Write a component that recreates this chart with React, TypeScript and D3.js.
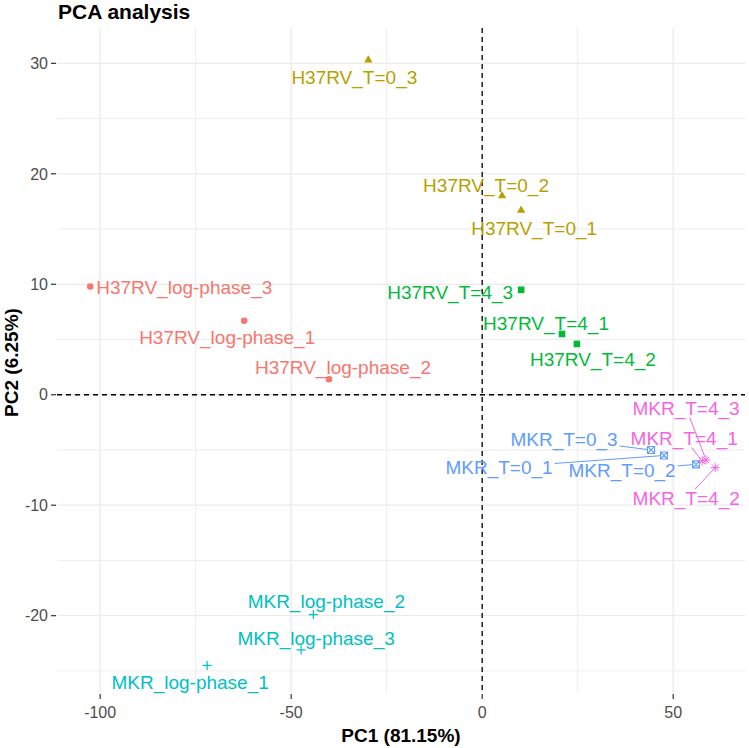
import * as d3 from "d3";

const WIDTH = 749;
const HEIGHT = 748;
const PANEL = { left: 57, right: 745, top: 28, bottom: 693 };
const FONT = "'Liberation Sans', Arial, sans-serif";

// samples, PCA scores and group of each
const sampleNames = [
  "H37RV_log-phase_1", "H37RV_log-phase_2", "H37RV_log-phase_3",
  "H37RV_T=0_1", "H37RV_T=0_2", "H37RV_T=0_3",
  "H37RV_T=4_1", "H37RV_T=4_2", "H37RV_T=4_3",
  "MKR_log-phase_1", "MKR_log-phase_2", "MKR_log-phase_3",
  "MKR_T=0_1", "MKR_T=0_2", "MKR_T=0_3",
  "MKR_T=4_1", "MKR_T=4_2", "MKR_T=4_3",
];
const pc1 = [
  -62.3, -40.1, -102.6,
  10.2, 5.2, -29.8,
  20.9, 24.8, 10.2,
  -72.0, -44.2, -47.4,
  47.6, 56.0, 44.2,
  57.6, 61.0, 58.6,
];
const pc2 = [
  6.7, 1.4, 9.8,
  16.7, 18.0, 30.3,
  5.5, 4.6, 9.5,
  -24.5, -19.9, -23.1,
  -5.5, -6.3, -5.0,
  -6.0, -6.6, -5.9,
];
const groupNames = ["H37RV_log-phase", "H37RV_T=0", "H37RV_T=4", "MKR_log-phase", "MKR_T=0", "MKR_T=4"];
const groupColors = ["#F8766D", "#B79F00", "#00BA38", "#00BFC4", "#619CFF", "#F564E3"];
const groupShapes = ["circle", "triangle", "square", "plus", "squareCross", "asterisk"];

const xTicks = [-100, -50, 0, 50];
const yTicks = [-20, -10, 0, 10, 20, 30];
const xMinor = [-75, -25, 25];
const yMinor = [-25, -15, -5, 5, 15, 25];

// repelled label placement (pixel offset of label centre from its point)
const labelOffsets: [number, number][] = [
  [-17, 17], [14, -12], [94, 1],
  [13, 18], [-16, -11], [-14, 17],
  [-16, -11], [16, 15], [-71, 3],
  [-17, 17], [13, -13], [15, -12],
  [-165, 12], [-74, 6], [-87, -11],
  [-18, -23], [-29, 31], [-20, -52],
];

const LABEL_SIZE = 19;

const groupOf = (name: string) =>
  groupNames.findIndex((g) => name.startsWith(g + "_") && !name.slice(g.length + 1).includes("_"));

function textWidth(s: string, size: number) {
  const canvas = document.createElement("canvas");
  const ctx = canvas.getContext("2d")!;
  ctx.font = `${size}px ${FONT}`;
  return ctx.measureText(s).width;
}

const Marker = ({ shape, x, y, color }: { shape: string; x: number; y: number; color: string }) => {
  const t = `translate(${x},${y})`;
  if (shape === "circle") return <circle cx={x} cy={y} r={3.3} fill={color} />;
  if (shape === "triangle")
    return <path transform={t} d={d3.symbol(d3.symbolTriangle, 30)() ?? ""} fill={color} />;
  if (shape === "square")
    return <path transform={t} d={d3.symbol(d3.symbolSquare, 44)() ?? ""} fill={color} />;
  if (shape === "plus")
    return <path transform={t} d="M-4.5,0H4.5M0,-4.5V4.5" stroke={color} strokeWidth={1.2} fill="none" />;
  if (shape === "squareCross")
    return (
      <path transform={t} d="M-3.5,-3.5H3.5V3.5H-3.5ZM-3.5,-3.5L3.5,3.5M3.5,-3.5L-3.5,3.5"
        stroke={color} strokeWidth={1.1} fill="none" />
    );
  return (
    <path transform={t} d="M-4.5,0H4.5M0,-4.5V4.5M-3.2,-3.2L3.2,3.2M3.2,-3.2L-3.2,3.2"
      stroke={color} strokeWidth={1} fill="none" />
  );
};

export default function App() {
  const x = d3.scaleLinear().domain([-111.3, 68.8]).range([PANEL.left, PANEL.right]);
  const y = d3.scaleLinear().domain([-27.0, 33.2]).range([PANEL.bottom, PANEL.top]);

  const points = sampleNames.map((name, i) => {
    const g = groupOf(name);
    const px = x(pc1[i]);
    const py = y(pc2[i]);
    const [dx, dy] = labelOffsets[i];
    const w = textWidth(name, LABEL_SIZE);
    const h = LABEL_SIZE * 1.0;
    const lx = px + dx;
    const ly = py + dy;
    // segment from label box edge to point (ggrepel-like)
    let seg: [number, number, number, number] | null = null;
    const vx = px - lx;
    const vy = py - ly;
    const tx = vx !== 0 ? (w / 2 + 2) / Math.abs(vx) : Infinity;
    const ty = vy !== 0 ? (h / 2) / Math.abs(vy) : Infinity;
    const tEdge = Math.min(tx, ty);
    if (tEdge < 1) {
      const sx = lx + vx * tEdge;
      const sy = ly + vy * tEdge;
      const len = Math.hypot(px - sx, py - sy);
      if (len > 12) {
        const shrink = 3 / len;
        seg = [sx, sy, px - (px - sx) * shrink, py - (py - sy) * shrink];
      }
    }
    return { name, g, px, py, lx, ly, seg };
  });

  return (
    <svg width={WIDTH} height={HEIGHT} style={{ position: "absolute", left: 0, top: 0, background: "#fff" }}
      fontFamily={FONT}>
      {/* grid */}
      {xMinor.map((v) => (
        <line key={"xm" + v} x1={x(v)} x2={x(v)} y1={PANEL.top} y2={PANEL.bottom} stroke="#EBEBEB" strokeWidth={0.9} />
      ))}
      {yMinor.map((v) => (
        <line key={"ym" + v} x1={PANEL.left} x2={PANEL.right} y1={y(v)} y2={y(v)} stroke="#EBEBEB" strokeWidth={0.9} />
      ))}
      {xTicks.map((v) => (
        <line key={"xg" + v} x1={x(v)} x2={x(v)} y1={PANEL.top} y2={PANEL.bottom} stroke="#EBEBEB" strokeWidth={1.3} />
      ))}
      {yTicks.map((v) => (
        <line key={"yg" + v} x1={PANEL.left} x2={PANEL.right} y1={y(v)} y2={y(v)} stroke="#EBEBEB" strokeWidth={1.3} />
      ))}

      {/* zero reference lines */}
      <line x1={PANEL.left} x2={PANEL.right} y1={y(0)} y2={y(0)} stroke="#000" strokeWidth={1.3} strokeDasharray="5,4" />
      <line x1={x(0)} x2={x(0)} y1={PANEL.top} y2={PANEL.bottom} stroke="#000" strokeWidth={1.3} strokeDasharray="5,4" />

      {/* segments */}
      {points.map((p) =>
        p.seg ? (
          <line key={"s" + p.name} x1={p.seg[0]} y1={p.seg[1]} x2={p.seg[2]} y2={p.seg[3]}
            stroke={groupColors[p.g]} strokeWidth={1} />
        ) : null
      )}

      {/* points */}
      {points.map((p) => (
        <Marker key={"p" + p.name} shape={groupShapes[p.g]} x={p.px} y={p.py} color={groupColors[p.g]} />
      ))}

      {/* labels */}
      {points.map((p) => (
        <text key={"l" + p.name} x={p.lx} y={p.ly + LABEL_SIZE * 0.35} textAnchor="middle"
          fontSize={LABEL_SIZE} fill={groupColors[p.g]}>
          {p.name}
        </text>
      ))}

      {/* axes ticks */}
      {xTicks.map((v) => (
        <g key={"xt" + v}>
          <line x1={x(v)} x2={x(v)} y1={PANEL.bottom + 1} y2={PANEL.bottom + 6} stroke="#333" strokeWidth={1.2} />
          <text x={x(v)} y={718} textAnchor="middle" fontSize={16} fill="#4D4D4D">{v}</text>
        </g>
      ))}
      {yTicks.map((v) => (
        <g key={"yt" + v}>
          <line x1={PANEL.left - 6} x2={PANEL.left - 1} y1={y(v)} y2={y(v)} stroke="#333" strokeWidth={1.2} />
          <text x={PANEL.left - 9} y={y(v) + 5.7} textAnchor="end" fontSize={16} fill="#4D4D4D">{v}</text>
        </g>
      ))}

      {/* titles */}
      <text x={58} y={19} fontSize={21} fontWeight="bold" fill="#000">PCA analysis</text>
      <text x={(PANEL.left + PANEL.right) / 2} y={742} textAnchor="middle" fontSize={19} fontWeight="bold" fill="#000">
        PC1 (81.15%)
      </text>
      <text transform={`translate(18,${(PANEL.top + PANEL.bottom) / 2 + 2}) rotate(-90)`} textAnchor="middle"
        fontSize={19} fontWeight="bold" fill="#000">
        PC2 (6.25%)
      </text>
    </svg>
  );
}
